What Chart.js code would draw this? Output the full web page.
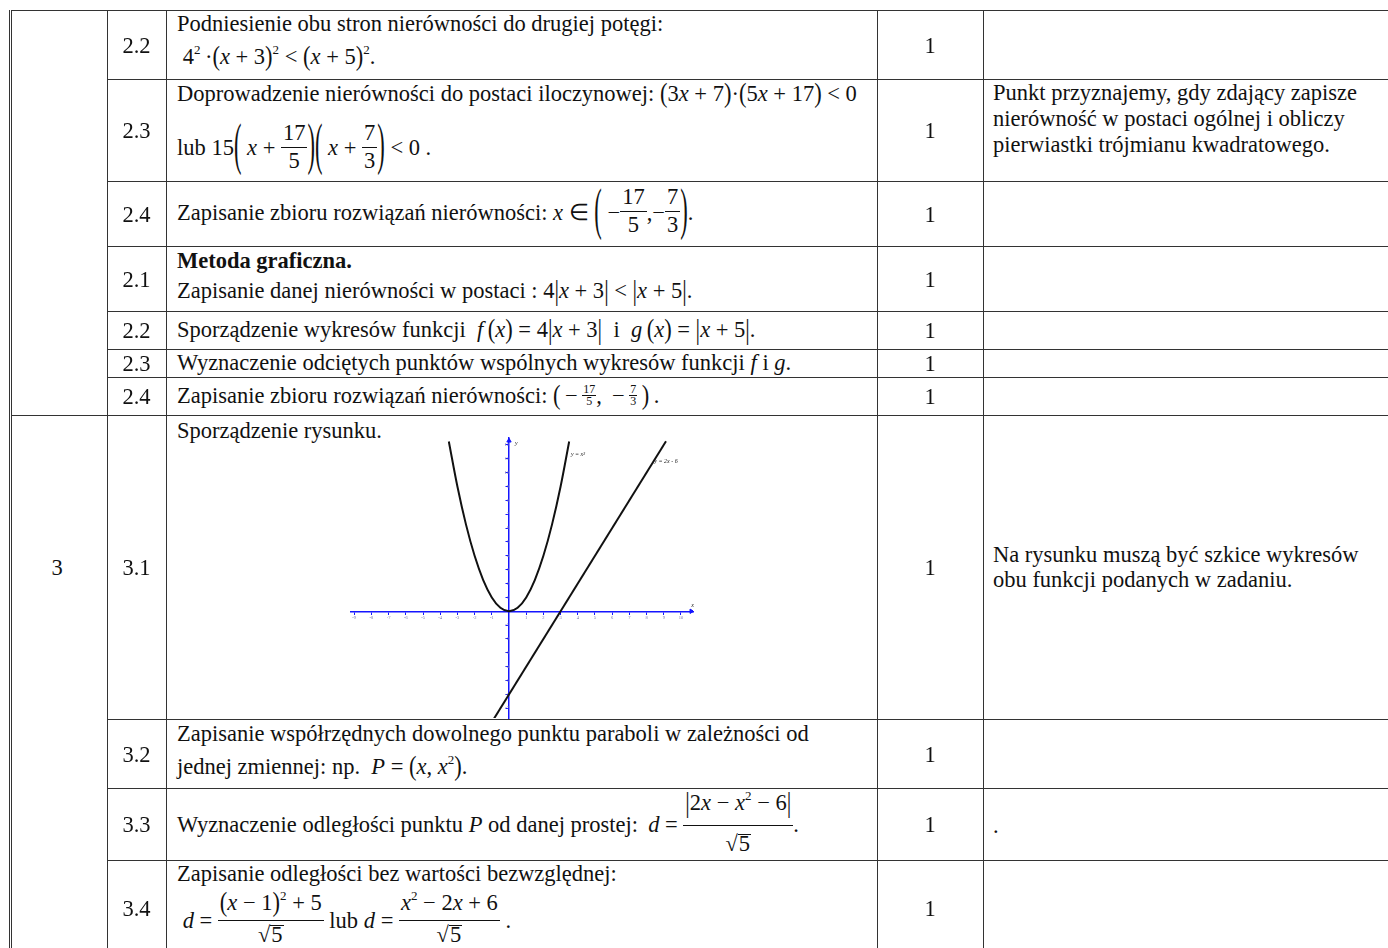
<!DOCTYPE html>
<html>
<head>
<meta charset="utf-8">
<script src="https://cdn.jsdelivr.net/npm/chart.js@4.4.0/dist/chart.umd.min.js"></script>
<style>
html, body { margin: 0; padding: 0; background: #fff; overflow: hidden; }
body { width: 1388px; height: 948px; position: relative; font-family: "Liberation Serif", "Times New Roman", serif; font-size: 22.5px; color: #111; }
.hl { position: absolute; height: 1px; background: #333; }
.vl { position: absolute; width: 1px; background: #333; }
.t { position: absolute; white-space: nowrap; line-height: 26px; }
.c2 { left: 107px; width: 59px; text-align: center; }
.c4 { left: 877px; width: 106px; text-align: center; }
.tx { left: 177px; }
.cm { left: 993px; }
i { font-style: italic; }
sup { font-size: 13px; vertical-align: 0; position: relative; top: -10px; }
.fr { display: inline-block; vertical-align: middle; text-align: center; position: relative; top: -3px; margin: -20px 0; }
.fr > span { display: block; line-height: 18px; }
.fr > .n { padding: 0 2px 5px; }
.fr > .d { border-top: 1px solid #111; padding-top: 4px; }
.fr.tall > .n { padding-bottom: 10px; }
.fr.tall > .d { padding-top: 8px; }
.fs { display: inline-block; vertical-align: middle; text-align: center; font-size: 12px; position: relative; top: -2px; margin: -8px 0; }
.fs > span { display: block; line-height: 11px; padding: 0 1px; }
.fs > .d { border-top: 1px solid #111; }
.bp { display: inline-block; transform: translateY(-3px) scaleY(2.5); }
.mp { display: inline-block; transform: scaleY(1.2); }
.ab { display: inline-block; transform: scaleY(1.3); }
.ov { display: inline-block; border-top: 1px solid #111; line-height: 18px; padding: 0 1px; }
#chartBox { position: absolute; left: 340px; top: 433px; width: 370px; height: 290px; }
</style>
</head>
<body>

<!-- kolumna 3: opisy -->
<div class="t tx" style="top:11px">Podniesienie obu stron nierówności do drugiej potęgi:</div>
<div class="t tx" style="top:43.5px">&nbsp;4<sup>2</sup>&thinsp;·<span class="mp">(</span><i>x</i> + 3<span class="mp">)</span><sup>2</sup> &lt; <span class="mp">(</span><i>x</i> + 5<span class="mp">)</span><sup>2</sup>.</div>

<div class="t tx" style="top:81px">Doprowadzenie nierówności do postaci iloczynowej: <span class="mp">(</span>3<i>x</i> + 7<span class="mp">)</span>·<span class="mp">(</span>5<i>x</i> + 17<span class="mp">)</span> &lt; 0</div>
<div class="t tx" style="top:135px">lub 15<span class="bp">(</span> <i>x</i> + <span class="fr"><span class="n">17</span><span class="d">5</span></span><span class="bp">)</span><span class="bp">(</span> <i>x</i> + <span class="fr"><span class="n">7</span><span class="d">3</span></span><span class="bp">)</span> &lt; 0 .</div>

<div class="t tx" style="top:199.5px">Zapisanie zbioru rozwiązań nierówności: <i>x</i> ∈ <span class="bp">(</span> −<span class="fr"><span class="n">17</span><span class="d">5</span></span>,−<span class="fr"><span class="n">7</span><span class="d">3</span></span><span class="bp">)</span>.</div>

<div class="t tx" style="top:247.5px"><b>Metoda graficzna.</b></div>
<div class="t tx" style="top:277.5px">Zapisanie danej nierówności w postaci : 4<span class="ab">|</span><i>x</i> + 3<span class="ab">|</span> &lt; <span class="ab">|</span><i>x</i> + 5<span class="ab">|</span>.</div>

<div class="t tx" style="top:316.5px">Sporządzenie wykresów funkcji &nbsp;<i>f</i>&thinsp;<span class="mp">(</span><i>x</i><span class="mp">)</span> = 4<span class="ab">|</span><i>x</i> + 3<span class="ab">|</span> &nbsp;i &nbsp;<i>g</i>&thinsp;<span class="mp">(</span><i>x</i><span class="mp">)</span> = <span class="ab">|</span><i>x</i> + 5<span class="ab">|</span>.</div>

<div class="t tx" style="top:350px">Wyznaczenie odciętych punktów wspólnych wykresów funkcji <i>f</i> i <i>g</i>.</div>

<div class="t tx" style="top:382.5px">Zapisanie zbioru rozwiązań nierówności: <span class="mp">(</span>&thinsp;−&thinsp;<span class="fs"><span class="n">17</span><span class="d">5</span></span>, &thinsp;−&thinsp;<span class="fs"><span class="n">7</span><span class="d">3</span></span>&thinsp;<span class="mp">)</span>&thinsp;.</div>

<div class="t tx" style="top:417.5px">Sporządzenie rysunku.</div>

<div class="t tx" style="top:720.5px">Zapisanie współrzędnych dowolnego punktu paraboli w zależności od</div>
<div class="t tx" style="top:753.5px">jednej zmiennej: np. &nbsp;<i>P</i> = <span class="mp">(</span><i>x</i>, <i>x</i><sup>2</sup><span class="mp">)</span>.</div>

<div class="t tx" style="top:811.5px">Wyznaczenie odległości punktu <i>P</i> od danej prostej: &thinsp;<i>d</i> = <span class="fr tall"><span class="n"><span class="ab">|</span>2<i>x</i> − <i>x</i><sup>2</sup> − 6<span class="ab">|</span></span><span class="d">√<span class="ov">5</span></span></span>.</div>

<div class="t tx" style="top:860.5px">Zapisanie odległości bez wartości bezwzględnej:</div>
<div class="t tx" style="top:907.5px">&nbsp;<i>d</i> = <span class="fr"><span class="n"><span class="mp">(</span><i>x</i> − 1<span class="mp">)</span><sup>2</sup> + 5</span><span class="d">√<span class="ov">5</span></span></span> lub <i>d</i> = <span class="fr"><span class="n"><i>x</i><sup>2</sup> − 2<i>x</i> + 6</span><span class="d">√<span class="ov">5</span></span></span> .</div>

<!-- kolumna 5: uwagi -->
<div class="t cm" style="top:80px">Punkt przyznajemy, gdy zdający zapisze</div>
<div class="t cm" style="top:106px">nierówność w postaci ogólnej i obliczy</div>
<div class="t cm" style="top:132px">pierwiastki trójmianu kwadratowego.</div>
<div class="t cm" style="top:542px">Na rysunku muszą być szkice wykresów</div>
<div class="t cm" style="top:567px">obu funkcji podanych w zadaniu.</div>
<div class="t cm" style="top:813px">.</div>

<div class="t" style="left:9px;width:96px;text-align:center;top:555px">3</div>

<div id="chartBox"><canvas id="graph" width="370" height="290"></canvas></div>

<script>
// chart data
const parabolaX = [-3.5, -3, -2.5, -2, -1.5, -1, -0.5, 0, 0.5, 1, 1.5, 2, 2.5, 3, 3.5];
const parabolaY = [12.25, 9, 6.25, 4, 2.25, 1, 0.25, 0, 0.25, 1, 2.25, 4, 6.25, 9, 12.25];
const lineX = [-0.9, 9.13];
const lineY = [-7.8, 12.26];
const xTickValues = [-9, -8, -7, -6, -5, -4, -3, -2, -1, 1, 2, 3, 4, 5, 6, 7, 8, 9, 10];
const yTickValues = [-7, -6, -5, -4, -3, -2, -1, 1, 2, 3, 4, 5, 6, 7, 8, 9, 10, 11, 12];
const curveNames = ['y = x²', 'y = 2x - 6'];
const curveNameX = [3.6, 8.45];
const curveNameY = [11.3, 10.8];
const axisNames = ['x', 'y'];

// table layout
const colX = [11, 107, 166, 877, 983];
const rowY = [10, 79, 181, 246, 311, 349, 377, 415, 719, 788, 860, 956];
const subLabels = ['2.2', '2.3', '2.4', '2.1', '2.2', '2.3', '2.4', '3.1', '3.2', '3.3', '3.4'];

function addDiv(cls, style, text) {
    const d = document.createElement('div');
    d.className = cls;
    d.style.cssText = style;
    if (text) d.textContent = text;
    document.body.appendChild(d);
}

rowY.forEach(y => {
    const left = (y === 10 || y === 415) ? 11 : 107;
    if (y !== 956) addDiv('hl', `top:${y}px;left:${left}px;width:${1400 - left}px`);
});
colX.forEach(x => addDiv('vl', `left:${x}px;top:10px;height:950px`));
addDiv('vl', 'left:9px;top:10px;height:950px');

for (let i = 0; i < subLabels.length; i++) {
    const mid = (rowY[i] + rowY[i + 1]) / 2;
    addDiv('t c2', `top:${mid - 12}px`, subLabels[i]);
    addDiv('t c4', `top:${mid - 12}px`, '1');
}

const blue = '#1515ff';

const labelPlugin = {
    id: 'curveLabels',
    afterDatasetsDraw(chart) {
        const ctx = chart.ctx;
        const xs = chart.scales.x, ys = chart.scales.y;
        ctx.save();
        ctx.fillStyle = '#222';
        ctx.font = 'italic 6px "Liberation Serif"';
        ctx.textBaseline = 'middle';
        for (let i = 0; i < curveNames.length; i++) {
            ctx.fillText(curveNames[i], xs.getPixelForValue(curveNameX[i]), ys.getPixelForValue(curveNameY[i]));
        }
        ctx.fillText(axisNames[0], xs.getPixelForValue(10.6), ys.getPixelForValue(0.45));
        ctx.fillText(axisNames[1], xs.getPixelForValue(0.35), ys.getPixelForValue(12.1));
        ctx.restore();
    }
};

function toPoints(xs, ys) {
    return xs.map((x, i) => ({ x: x, y: ys[i] }));
}

new Chart(document.getElementById('graph'), {
    type: 'scatter',
    data: {
        datasets: [
            {
                label: curveNames[0],
                data: toPoints(parabolaX, parabolaY),
                showLine: true,
                borderColor: '#111',
                borderWidth: 2,
                pointRadius: 0,
                cubicInterpolationMode: 'monotone'
            },
            {
                label: curveNames[1],
                data: toPoints(lineX, lineY),
                showLine: true,
                borderColor: '#111',
                borderWidth: 2,
                pointRadius: 0
            },
            {
                label: 'arrows',
                data: [{ x: 10.6, y: 0 }, { x: 0, y: 12.3 }],
                pointStyle: 'triangle',
                rotation: [90, 0],
                pointRadius: 2.5,
                backgroundColor: blue,
                borderColor: blue,
                borderWidth: 1
            }
        ]
    },
    options: {
        responsive: false,
        animation: false,
        layout: { padding: { left: 10.8, top: 0, right: 17, bottom: 0 } },
        plugins: { legend: { display: false }, tooltip: { enabled: false } },
        scales: {
            x: {
                type: 'linear',
                min: -9.2,
                max: 10.7,
                position: { y: 0 },
                border: { color: blue, width: 1.5 },
                grid: { drawOnChartArea: false, drawTicks: true, tickLength: 2.5, color: blue },
                ticks: { font: { size: 4.5, family: 'Liberation Serif' }, color: '#7777aa', padding: 1, maxRotation: 0, autoSkip: false },
                afterBuildTicks: s => { s.ticks = xTickValues.map(v => ({ value: v })); }
            },
            y: {
                type: 'linear',
                min: -7.7,
                max: 12.5,
                position: { x: 0 },
                border: { color: blue, width: 1.5 },
                grid: { drawOnChartArea: false, drawTicks: true, tickLength: 2.5, color: blue },
                ticks: { font: { size: 4.5, family: 'Liberation Serif' }, color: '#7777aa', padding: 1, autoSkip: false },
                afterBuildTicks: s => { s.ticks = yTickValues.map(v => ({ value: v })); }
            }
        }
    },
    plugins: [labelPlugin]
});
</script>
</body>
</html>
